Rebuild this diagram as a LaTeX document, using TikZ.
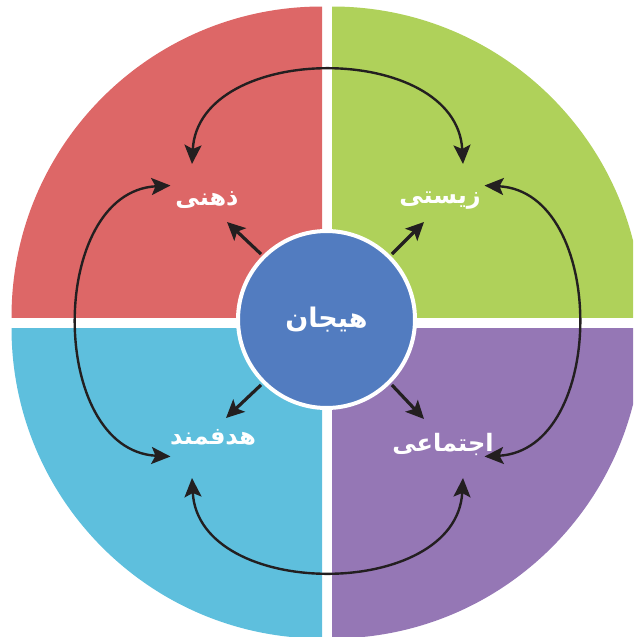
\documentclass[tikz,border=0pt]{standalone}
\usepackage{fontspec}
\newfontfamily\fa[Script=Arabic]{DejaVu Sans}
\TeXXeTstate=1
\usetikzlibrary{arrows.meta}
\definecolor{qred}{RGB}{221,103,103}
\definecolor{qgreen}{RGB}{175,209,90}
\definecolor{qcyan}{RGB}{94,191,221}
\definecolor{qpurple}{RGB}{149,119,181}
\definecolor{qblue}{RGB}{82,124,192}
\definecolor{qink}{RGB}{35,31,32}
\begin{document}
\begin{tikzpicture}[x=1pt,y=-1pt,
  lbl/.style={text=white,font=\fa\bfseries\fontsize{24}{28}\selectfont,inner sep=0pt},
  hubstyle/.style={circle,fill=qblue,draw=white,line width=4pt,minimum size=177pt,inner sep=0pt,
     text=white,font=\fa\bfseries\fontsize{27}{30}\selectfont},
  curvearrow/.style={draw=qink,line width=2.4pt,{Stealth[length=19pt,width=17pt,inset=4pt]}-{Stealth[length=19pt,width=17pt,inset=4pt]}},
  radial/.style={draw=qink,line width=3.2pt,-{Stealth[length=18pt,width=17pt,inset=4pt]}}]
\useasboundingbox (0,0) rectangle (633,637);
\clip (0,0) rectangle (633,637);
% quadrants
\begin{scope}\clip (0,0) rectangle (322,317);
  \fill[qred] (322,317) circle[radius=310.5];\end{scope}
\begin{scope}\clip (332,0) rectangle (633,317);
  \fill[qgreen] (332,317) circle[radius=310.5];\end{scope}
\begin{scope}\clip (0,328) rectangle (322,637);
  \fill[qcyan] (322,328) circle[radius=310.5];\end{scope}
\begin{scope}\clip (332,328) rectangle (633,637);
  \fill[qpurple] (332,328) circle[radius=310.5];\end{scope}
% labels
\node[lbl] (zehni) at (207,200) {\beginR ذهنی\endR};
\node[lbl] (zisti) at (440,201) {\beginR زیستی\endR};
\node[lbl] (hadaf) at (213,437) {\beginR هدفمند\endR};
\node[lbl] (ejt) at (443,444) {\beginR اجتماعی\endR};
% arrow end coordinates
\coordinate (t1) at (227,222);
\coordinate (t2) at (424,222);
\coordinate (t3) at (226,418);
\coordinate (t4) at (424,419);
\coordinate (at1) at (192,164);
\coordinate (at2) at (463,164);
\coordinate (al1) at (170.5,185.5);
\coordinate (al2) at (170.5,456.5);
\coordinate (ar1) at (484.5,185.5);
\coordinate (ar2) at (484.5,456.5);
\coordinate (ab1) at (192,478);
\coordinate (ab2) at (463,478);
% curved double arrows
\draw[curvearrow] (at1) .. controls (198.5,41) and (456.5,41) .. (at2);
\draw[curvearrow] (al1) .. controls (47.5,192) and (47.5,450) .. (al2);
\draw[curvearrow] (ar1) .. controls (607.5,192) and (607.5,450) .. (ar2);
\draw[curvearrow] (ab1) .. controls (198.5,601) and (456.5,601) .. (ab2);
% hub
\node[hubstyle] (hub) at (326.5,319.5) {\beginR هیجان\endR};
\draw[radial,shorten <=2pt] (hub.135) -- (t1);
\draw[radial,shorten <=2pt] (hub.45) -- (t2);
\draw[radial,shorten <=2pt] (hub.225) -- (t3);
\draw[radial,shorten <=2pt] (hub.315) -- (t4);
\end{tikzpicture}
\end{document}
